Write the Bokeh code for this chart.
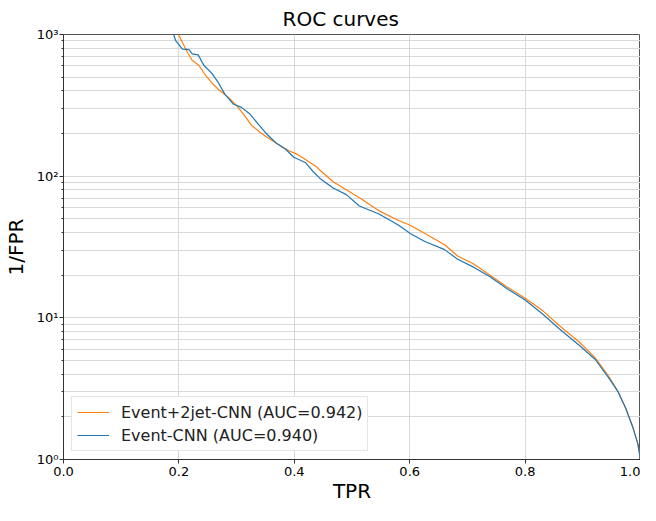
from bokeh.plotting import figure
from bokeh.models import FixedTicker, NumeralTickFormatter, CustomJSTickFormatter, Legend, LegendItem, Range1d
from bokeh.embed import file_html
from bokeh.resources import INLINE

# Event+2jet-CNN (orange)
tpr_2jet = [0.1993, 0.2061, 0.2147, 0.2232, 0.2346, 0.2458, 0.2572, 0.2687, 0.2857, 0.2998,
            0.3112, 0.3254, 0.3424, 0.3595, 0.3765, 0.3906, 0.4049, 0.4220, 0.4390, 0.4446,
            0.4673, 0.4901, 0.5128, 0.5468, 0.5809, 0.6009, 0.6264, 0.6605, 0.6831, 0.7116,
            0.7399, 0.7683, 0.7995, 0.8308, 0.8591, 0.8932, 0.9216, 0.9443, 0.9613, 0.9742,
            0.9869, 0.9954, 1.0]
inv_fpr_2jet = [1000, 877, 750, 656, 607, 518, 455, 409, 359, 316,
                276, 230, 201, 181, 163, 151, 143, 129, 116, 110,
                91.4, 80.2, 70.4, 56.9, 48.6, 45.0, 39.4, 32.8, 27.3, 23.9,
                19.9, 16.6, 13.8, 11.2, 8.82, 6.78, 5.21, 3.90, 3.00, 2.31,
                1.68, 1.29, 1.0]

# Event-CNN (blue)
tpr_evt = [0.1908, 0.1947, 0.1993, 0.2061, 0.2175, 0.2232, 0.2334, 0.2431, 0.2572, 0.2687,
           0.2799, 0.2942, 0.3083, 0.3225, 0.3368, 0.3509, 0.3680, 0.3850, 0.3991, 0.4191,
           0.4332, 0.4446, 0.4673, 0.4901, 0.5128, 0.5468, 0.5809, 0.6009, 0.6264, 0.6605,
           0.6831, 0.7116, 0.7399, 0.7683, 0.7995, 0.8308, 0.8591, 0.8932, 0.9216, 0.9443,
           0.9613, 0.9742, 0.9869, 0.9954, 1.0]
inv_fpr_evt = [1000, 900, 855, 789, 781, 730, 718, 607, 532, 455,
               378, 323, 306, 276, 235, 201, 172, 155, 136, 125,
               107, 96.4, 82.4, 74.1, 61.6, 54.1, 45.0, 39.4, 34.6, 30.3,
               25.9, 22.7, 19.4, 16.1, 13.4, 10.6, 8.37, 6.43, 5.08, 3.80,
               3.00, 2.31, 1.68, 1.29, 1.0]

labels = ["Event+2jet-CNN (AUC=0.942)", "Event-CNN (AUC=0.940)"]
x_ticks = [0.0, 0.2, 0.4, 0.6, 0.8, 1.0]
y_ticks = [1, 10, 100, 1000]
y_minor = [m * 10 ** k for k in range(3) for m in range(2, 10)]

FONT = "DejaVu Sans"

p = figure(width=640, height=505, y_axis_type="log", output_backend="svg",
           toolbar_location=None, title="ROC curves",
           x_range=Range1d(0, 1), y_range=Range1d(1, 1000),
           min_border_left=0, min_border_right=0, min_border_top=8, min_border_bottom=0)

p.title.align = "left"
p.title.text_font = FONT
p.title.text_font_size = "20px"
p.title.text_font_style = "normal"
p.title.text_color = "#000000"
p.title.offset = 219
p.title.standoff = 8

r1 = p.line(tpr_2jet, inv_fpr_2jet, line_color="#ff7f0e", line_width=1.2)
r2 = p.line(tpr_evt, inv_fpr_evt, line_color="#1f77b4", line_width=1.2)

p.xaxis.ticker = FixedTicker(ticks=x_ticks)
p.xaxis.formatter = NumeralTickFormatter(format="0.0")
p.yaxis.ticker = FixedTicker(ticks=y_ticks, minor_ticks=y_minor)
p.yaxis.formatter = CustomJSTickFormatter(code="""
const sup = {'0':'\u2070','1':'\u00b9','2':'\u00b2','3':'\u00b3','-':'\u207b'};
const e = String(Math.round(Math.log10(tick)));
return '10' + e.split('').map(c => sup[c]).join('');
""")

for ax in (p.xaxis[0], p.yaxis[0]):
    ax.major_label_text_font = FONT
    ax.major_label_text_font_size = "13px"
    ax.major_label_text_color = "#000000"
    ax.axis_label_text_font = FONT
    ax.axis_label_text_font_size = "20px"
    ax.axis_label_text_font_style = "normal"
    ax.axis_label_text_color = "#000000"
    ax.axis_line_color = "#333333"
    ax.major_tick_line_color = "#333333"
    ax.minor_tick_line_color = "#333333"
    ax.major_tick_out = 4
    ax.major_tick_in = 0
    ax.minor_tick_out = 2
    ax.minor_tick_in = 0
    ax.major_label_standoff = 1
    ax.axis_label_standoff = 0
p.xaxis.axis_label = "TPR"
p.yaxis.axis_label = "1/FPR"
p.xaxis.minor_tick_line_color = None
p.yaxis.axis_label_standoff = 6
p.xaxis.major_label_standoff = 3

p.xgrid.grid_line_color = "#d9d9d9"
p.ygrid.grid_line_color = "#d9d9d9"
p.ygrid.minor_grid_line_color = "#d9d9d9"
p.outline_line_color = "#555555"

legend = Legend(items=[LegendItem(label=labels[0], renderers=[r1]),
                       LegendItem(label=labels[1], renderers=[r2])],
                location="bottom_left")
legend.label_text_font = FONT
legend.label_text_font_size = "16px"
legend.label_text_color = "#222222"
legend.border_line_color = "#cccccc"
legend.glyph_width = 32
legend.label_standoff = 12
legend.spacing = 3
legend.padding = 5
legend.margin = 8
legend.label_height = 20
legend.glyph_height = 20
p.add_layout(legend)

open("out.html", "w").write(file_html(p, INLINE))
